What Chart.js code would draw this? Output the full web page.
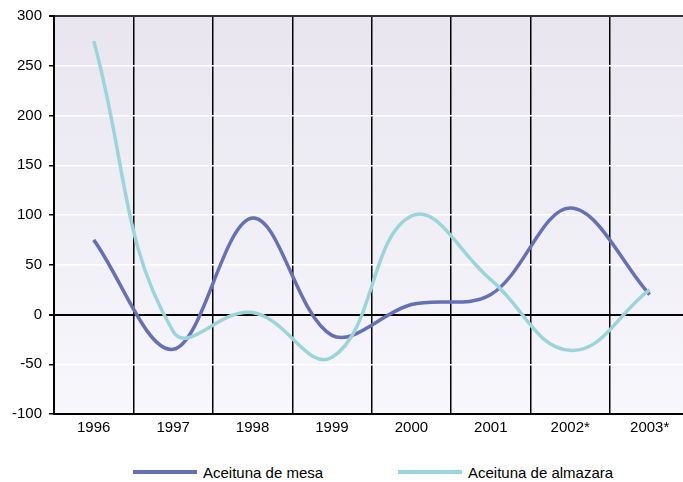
<!DOCTYPE html>
<html>
<head>
<meta charset="utf-8">
<script src="https://cdn.jsdelivr.net/npm/chart.js@4/dist/chart.umd.min.js"></script>
<style>
  html, body { margin: 0; padding: 0; background: #fff; }
  body { width: 683px; height: 482px; position: relative; overflow: hidden;
         font-family: "Liberation Sans", Arial, sans-serif; }
  #wrap { position: absolute; left: 0; top: 0; width: 683px; height: 442px; }
  .legend-item { position: absolute; top: 462px; height: 20px; font-size: 15px; color: #000;
                 display: flex; align-items: center; white-space: nowrap; }
  .legend-item span.swatch { display: inline-block; width: 64px; height: 4px; margin-right: 6px; }
</style>
</head>
<body>
<div id="wrap"><canvas id="chart"></canvas></div>
<div id="legend"></div>
<script>
// Years shown on the x axis (labels), one point per year for each series
const years = [1996, 1997, 1998, 1999, 2000, 2001, 2002, 2003];
const yearLabels = ['1996', '1997', '1998', '1999', '2000', '2001', '2002*', '2003*'];

const mesaValues = [75, -35, 97, -21, 10, 20, 107, 20];
const almazaraValues = [275, -17, 2, -43, 99, 35, -36, 25];

const seriesNames = ['Aceituna de mesa', 'Aceituna de almazara'];
const seriesColors = ['#6670b6', '#9ad6d9'];
const seriesTension = [0.35, 0.42];

const yTicks = [-100, -50, 0, 50, 100, 150, 200, 250, 300];

// Light lavender gradient behind the plot area
const bgPlugin = {
  id: 'bgPlugin',
  beforeDraw(chart) {
    const { ctx, chartArea: a } = chart;
    const g = ctx.createLinearGradient(0, a.top, 0, a.bottom);
    g.addColorStop(0, '#e8e5ee');
    g.addColorStop(1, '#f8f7fc');
    ctx.save();
    ctx.fillStyle = g;
    ctx.fillRect(a.left, a.top, a.right - a.left, a.bottom - a.top);
    ctx.restore();
  }
};

function toPoints(vals) {
  return vals.map((v, i) => ({ x: years[i], y: v }));
}

const datasets = [mesaValues, almazaraValues].map((vals, i) => ({
  label: seriesNames[i],
  data: toPoints(vals),
  borderColor: seriesColors[i],
  backgroundColor: seriesColors[i],
  borderWidth: 3.5,
  pointRadius: 0,
  tension: seriesTension[i],
  fill: false,
  order: 1 - i
}));

const font = { family: '"Liberation Sans", Arial, sans-serif', size: 15 };

new Chart(document.getElementById('chart'), {
  type: 'line',
  data: { datasets },
  options: {
    responsive: true,
    maintainAspectRatio: false,
    animation: false,
    layout: { padding: { top: 12, right: 0, left: 0, bottom: 0 } },
    plugins: { legend: { display: false }, tooltip: { enabled: false } },
    scales: {
      x: {
        type: 'linear',
        min: years[0] - 0.5,
        max: years[years.length - 1] + 0.42,
        afterBuildTicks(scale) {
          const t = [];
          years.forEach((y, i) => {
            t.push({ value: y });
            if (i < years.length - 1) t.push({ value: y + 0.5 });
          });
          scale.ticks = t;
        },
        ticks: {
          autoSkip: false,
          maxRotation: 0,
          color: '#000',
          font,
          padding: 5,
          callback(v) {
            const i = years.indexOf(v);
            return i >= 0 ? yearLabels[i] : '';
          }
        },
        grid: {
          drawTicks: false,
          lineWidth: 1.5,
          color: c => (c.tick && c.tick.value % 1 !== 0) ? '#000' : 'rgba(0,0,0,0)'
        },
        border: { display: true, color: '#000', width: 2 }
      },
      y: {
        min: -100,
        max: 300,
        afterBuildTicks(scale) { scale.ticks = yTicks.map(v => ({ value: v })); },
        afterFit(scale) { scale.width = 54; },
        ticks: { color: '#000', font, padding: 7 },
        grid: {
          tickLength: 5,
          tickColor: '#000',
          lineWidth: c => (c.tick && (c.tick.value === 0 || c.tick.value === 300)) ? 2 : 1.5,
          color: c => {
            if (!c.tick) return '#fff';
            if (c.tick.value === 0) return '#000';
            if (c.tick.value === 300) return '#333';
            return '#fff';
          }
        },
        border: { display: true, color: '#000', width: 2 }
      }
    }
  },
  plugins: [bgPlugin]
});

// Legend below the chart
const legend = document.getElementById('legend');
const legendLeft = [133, 398];
seriesNames.forEach((name, i) => {
  const item = document.createElement('div');
  item.className = 'legend-item';
  item.style.left = legendLeft[i] + 'px';
  const sw = document.createElement('span');
  sw.className = 'swatch';
  sw.style.background = seriesColors[i];
  item.appendChild(sw);
  item.appendChild(document.createTextNode(name));
  legend.appendChild(item);
});
</script>
</body>
</html>
